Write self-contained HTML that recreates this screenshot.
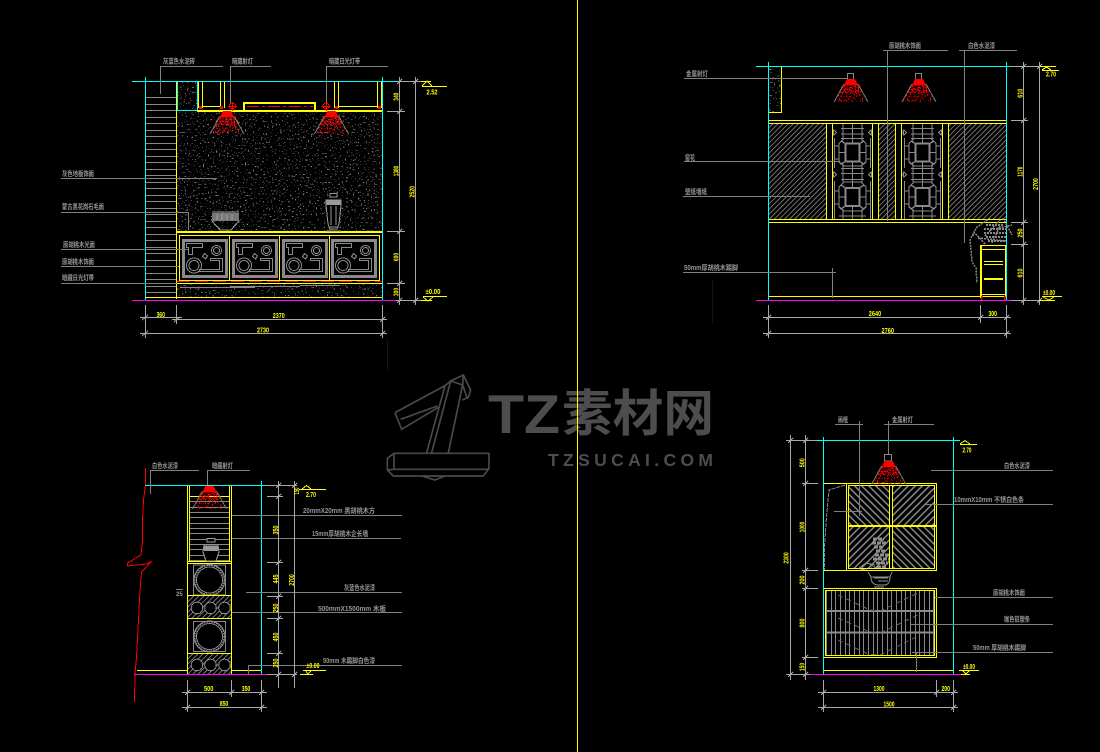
<!DOCTYPE html>
<html><head><meta charset="utf-8"><style>
html,body{margin:0;padding:0;background:#000}
svg{display:block}
.y{fill:#ff0;font:bold 7.500px "Liberation Sans",sans-serif;text-anchor:middle}
.g{fill:#969696;font:bold 7px "Liberation Sans","Noto Sans CJK SC",sans-serif}
.L{fill:none;stroke:#808080;stroke-width:1}
.D{fill:none;stroke:#a8a8a8;stroke-width:1}
.Y{fill:none;stroke:#ff0;stroke-width:1}
.Y2{fill:none;stroke:#ff0;stroke-width:2}
.C{fill:none;stroke:#0ff;stroke-width:1}
.M{fill:none;stroke:#f0f;stroke-width:1}
.R{fill:none;stroke:#f00;stroke-width:1}
.G{fill:none;stroke:#888;stroke-width:1}
</style></head><body>
<svg xmlns="http://www.w3.org/2000/svg" width="1100" height="752" viewBox="0 0 1100 752" shape-rendering="crispEdges">
<defs>
<filter id="sp" x="0" y="0" width="100%" height="100%" color-interpolation-filters="sRGB">
<feTurbulence type="fractalNoise" baseFrequency="0.62" numOctaves="1" seed="5"/>
<feColorMatrix values="0 0 0 0 .5 0 0 0 0 .5 0 0 0 0 .5 1 0 0 0 0"/>
<feComponentTransfer><feFuncA type="linear" slope="40" intercept="-26.200"/></feComponentTransfer>
</filter>
<filter id="spr" x="0" y="0" width="100%" height="100%" color-interpolation-filters="sRGB">
<feTurbulence type="fractalNoise" baseFrequency="0.7" numOctaves="1" seed="8"/>
<feColorMatrix values="0 0 0 0 1 0 0 0 0 0 0 0 0 0 0 1 0 0 0 0"/>
<feComponentTransfer><feFuncA type="linear" slope="40" intercept="-20"/></feComponentTransfer>
</filter>
<filter id="spr2" x="0" y="0" width="100%" height="100%" color-interpolation-filters="sRGB">
<feTurbulence type="fractalNoise" baseFrequency="0.7" numOctaves="1" seed="12"/>
<feColorMatrix values="0 0 0 0 1 0 0 0 0 0 0 0 0 0 0 1 0 0 0 0"/>
<feComponentTransfer><feFuncA type="linear" slope="40" intercept="-23.500"/></feComponentTransfer>
</filter>
<pattern id="fine" patternUnits="userSpaceOnUse" width="3.600" height="3.600" patternTransform="rotate(45)"><rect width="1" height="3.600" fill="#7c7c7c"/></pattern>
<pattern id="d1" patternUnits="userSpaceOnUse" width="5" height="5" patternTransform="rotate(45)"><rect width="1.300" height="5" fill="#888"/></pattern>
<pattern id="d2" patternUnits="userSpaceOnUse" width="5" height="5" patternTransform="rotate(-45)"><rect width="1.300" height="5" fill="#888"/></pattern>
<pattern id="hz" patternUnits="userSpaceOnUse" width="10" height="13"><rect width="10" height="1" fill="#888"/><rect y="6" width="10" height="1" fill="#888"/></pattern>
<pattern id="hz2" patternUnits="userSpaceOnUse" width="10" height="16"><rect width="10" height="1" fill="#888"/><rect y="5" width="10" height="1" fill="#888"/><rect y="11" width="10" height="1" fill="#888"/></pattern>
<pattern id="vt" patternUnits="userSpaceOnUse" width="14" height="10"><rect width="1" height="10" fill="#888"/><rect x="5" width="1" height="10" fill="#888"/><rect x="9" width="1" height="10" fill="#888"/></pattern>
<clipPath id="spray"><path d="M-9 6H9L16 23H-16Z"/></clipPath>
<g id="lamp">
<g clip-path="url(#spray)"><rect x="-17" y="5" width="34" height="9" filter="url(#spr)"/><rect x="-17" y="14" width="34" height="9" filter="url(#spr2)"/></g>
<path d="M-4 0H4L7 6H-7Z" fill="#f00"/>
<path d="M-7 5L-17 23M7 5L17 23" stroke="#777" fill="none"/>
</g>
<g id="panel" fill="none" stroke="#8a8a8a">
<rect x="0" y="0" width="43" height="36" stroke-width="2.600"/>
<path d="M3 3H19V7H9V14H5V7H3Z" stroke-width="1.200"/>
<circle cx="10.500" cy="25" r="7.500"/><circle cx="10.500" cy="25" r="5"/>
<circle cx="33" cy="10" r="5"/><circle cx="33" cy="10" r="3"/>
<path d="M21 13L24 15.500 22 18.500 19 16Z"/>
<path d="M16 31H39V18H27V20H36V29H16Z" stroke-width="1.200"/>
</g>
<g id="lat" fill="none" stroke="#8a8a8a" stroke-width="1.400">
<path d="M8 4.500H31M8 10H31M8 14.500H31M10 0V14.500M19.500 0V14.500M29 0V14.500"/>
<path d="M11 14.500H28L33 19.500V38L28 42H11L6 38V19.500Z"/>
<path d="M1.500 14V44M37.500 14V44M1.500 22H6M1.500 35H6M33 22H37.500M33 35H37.500"/>
<rect x="12.500" y="19.500" width="14" height="18" rx="1.500" stroke-width="2.200"/>
<path d="M19.500 14.500V19.500M19.500 37.500V42M6 28.500H12.500M26.500 28.500H33M8 17L12.500 19.500M31 17L26.500 19.500M8 40L12.500 37.500M31 40L26.500 37.500"/>
<path d="M8 44.500H31M8 49.500H31M8 55.500H31M10 42V58M19.500 42V58M29 42V58"/>
<path d="M1 48L3.500 50.500 1 53 0 50.500ZM38 48L35.500 50.500 38 53 39 50.500ZM1 6L3.500 8.500 1 11 0 8.500ZM38 6L35.500 8.500 38 11 39 8.500Z"/>
<path d="M11 58H28L33 63V83L28 87H11L6 83V63Z"/>
<path d="M1.500 57V95M37.500 57V95M1.500 67H6M1.500 80H6M33 67H37.500M33 80H37.500"/>
<rect x="12.500" y="64" width="14" height="18" rx="1.500" stroke-width="2.200"/>
<path d="M19.500 58V64M19.500 82V87M6 73H12.500M26.500 73H33M8 61L12.500 64M31 61L26.500 64M8 85L12.500 82M31 85L26.500 82"/>
<path d="M6 92H33M10 87V95M19.500 87V95M29 87V95"/>
</g>
<g id="circ" fill="none">
<rect x="0" y="0" width="32" height="30" stroke="#888"/>
<circle cx="16" cy="15" r="14.500" stroke="#8c8c8c" stroke-width="1" stroke-dasharray="1.500 1"/>
<circle cx="16" cy="15" r="13" stroke="#8c8c8c"/>
<circle cx="16" cy="15" r="15.500" stroke="#8c8c8c"/>
</g>
<g id="band">
<rect x="0" y="0" width="44" height="22" fill="url(#fine)"/>
<circle cx="9" cy="12" r="5.800" fill="#000" stroke="#8c8c8c"/>
<circle cx="22.500" cy="12" r="5.800" fill="#000" stroke="#8c8c8c"/>
<circle cx="36.500" cy="12" r="5.800" fill="#000" stroke="#8c8c8c"/>
</g>
</defs>
<rect width="1100" height="752" fill="#000"/>

<!-- watermark -->
<g shape-rendering="auto">
<g fill="none" stroke="#4a4a4a" transform="translate(380 370) scale(.3333)" stroke-width="5">
<path d="M45 128L195 47 212 33 250 15 272 60 265 82 247 90"/>
<path d="M45 128L65 178 175 112M62 148L172 108M212 33L248 45 250 15M248 45L262 85M195 47L140 248M212 33L155 248M248 45L205 248"/>
<path d="M22 265L42 250H327V295L310 318H40L22 300ZM42 250V298H327M22 300L42 298M125 318L165 330 195 318"/>
</g>
<text x="488" y="433" fill="#4d4d4d" font-family="'Liberation Sans','Noto Sans CJK SC',sans-serif" font-weight="700" font-size="55" textLength="72" lengthAdjust="spacingAndGlyphs">TZ</text>
<text x="562" y="431" fill="#4d4d4d" font-family="'Noto Sans CJK SC',sans-serif" font-weight="700" font-size="50" textLength="152" lengthAdjust="spacingAndGlyphs">素材网</text>
<text x="548" y="466" fill="#4d4d4d" font-family="'Liberation Sans',sans-serif" font-weight="700" font-size="17.500" textLength="165">TZSUCAI.COM</text>
</g>
<path d="M577.500 0V752" class="Y"/>
<path d="M712.500 280V323M387.500 340V370" stroke="#151515" fill="none"/>

<!-- ========== DRAWING 1 ========== -->
<rect x="146" y="95" width="30" height="204" fill="url(#hz)"/>
<rect x="177" y="112" width="205" height="120" filter="url(#sp)"/>
<rect x="177" y="284" width="205" height="13" filter="url(#sp)"/>
<rect x="177" y="82" width="20" height="28" filter="url(#sp)"/>
<path class="C" d="M132 81.500H397M145.500 77V300M382.500 77V300M177.500 82V110.500H197.500V82"/>
<path class="Y" d="M176.500 82V299M198.500 82V108M202.500 82V108M220.500 82V108M224.500 82V108M334.500 82V108M338.500 82V108M377.500 82V108M381.500 82V108M202 106.500H220M338 106.500H377M145 297.500H382"/>
<path class="Y2" d="M197 111H382M177 232H382M244 111V103H315V111"/>
<path class="R" d="M247 106.500H313" stroke-dasharray="12 3 3 3"/>
<g fill="#f00"><rect x="199" y="106" width="3" height="3"/><rect x="220" y="106" width="3" height="3"/><rect x="335" y="106" width="3" height="3"/><rect x="378" y="106" width="3" height="3"/></g>
<g class="R"><circle cx="232.500" cy="106" r="3"/><circle cx="326" cy="106" r="3"/><path d="M228 106.500H237M232.500 102V111M321.500 106.500H330.500M326.500 102V111"/></g>
<use href="#lamp" x="227" y="111"/><use href="#lamp" x="331.500" y="111"/>
<path class="Y" d="M179.500 235.500H379.500V280.500H179.500ZM229.500 235.500V280.500M279.500 235.500V280.500M329.500 235.500V280.500M177 283.500H382"/>
<path d="M177 281.500H382" stroke="#f00" fill="none" stroke-dasharray="13 5"/>
<use href="#panel" x="183.500" y="240.500"/><use href="#panel" x="233.500" y="240.500"/><use href="#panel" x="283.500" y="240.500"/><use href="#panel" x="332.500" y="240.500"/>
<path class="G" d="M180 287.500H255M230 286.500H300M300 285.500H340"/>
<!-- vase -->
<g fill="#000" stroke="#999">
<path d="M330 193.500H337V197H330Z"/>
<path d="M326 200H341V205L339 224 337 229H330L328 224 326 205Z"/>
</g>
<rect x="326" y="200" width="15" height="5" fill="#999"/>
<path d="M328.500 227H338.500M331 206V225M336 206V225M326 231H341" stroke="#999" fill="none"/>
<!-- planter -->
<rect x="212" y="213" width="27" height="8" fill="#777"/>
<path d="M212 212H239M212 221L220 230H231L239 221M217 214V220M222 214V220M227 214V220M232 214V220" stroke="#a0a0a0" fill="none"/>
<!-- dims -->
<path class="D" d="M399.500 77V305M415.500 77V305M397 81.500H421M387 111.500H405M387 231.500H405M387 283.500H405M387 300.500H421"/>
<path class="D" d="M145.500 305V338M176.500 305V324M382.500 305V338M140 317.500H182M172 319.500H387M140 333.500H387M142 320L148 315M174 322L180 317M380 322L385 317M142 336L148 331M380 336L385 331M397 84L402 79M397 114L402 109M397 234L402 229M397 286L402 281M397 303L402 298M413 84L418 79M413 303L418 298"/>
<path class="M" d="M132 300.500H396"/>
<path class="Y" d="M422 86.500H447M421 81.500H431M423 296.500H447M421 300.500H432M427 81L422 86M427 81L432 86M423 297L428 301 433 297"/>
<text class="y" transform="translate(398.500 96.700) rotate(-90)" textLength="8" lengthAdjust="spacingAndGlyphs">340</text>
<text class="y" transform="translate(398.500 171) rotate(-90)" textLength="10.500" lengthAdjust="spacingAndGlyphs">1380</text>
<text class="y" transform="translate(398.500 257) rotate(-90)" textLength="8" lengthAdjust="spacingAndGlyphs">600</text>
<text class="y" transform="translate(398.500 292) rotate(-90)" textLength="8" lengthAdjust="spacingAndGlyphs">300</text>
<text class="y" transform="translate(414.500 191.700) rotate(-90)" textLength="11.500" lengthAdjust="spacingAndGlyphs">2520</text>
<text class="y" x="432" y="94.500" textLength="11" lengthAdjust="spacingAndGlyphs">2.52</text>
<text class="y" x="433" y="294" textLength="15" lengthAdjust="spacingAndGlyphs">±0.00</text>
<text class="y" x="160.700" y="317" textLength="8.500" lengthAdjust="spacingAndGlyphs">360</text>
<text class="y" x="278.700" y="318" textLength="12" lengthAdjust="spacingAndGlyphs">2370</text>
<text class="y" x="263" y="332.500" textLength="12" lengthAdjust="spacingAndGlyphs">2730</text>
<path class="L" d="M160 66.500H223M160.500 66V94M230.500 66V103M230 66.500H271M326.500 66V103M326 66.500H388M61 178.500H217M61 212.500H188.500V230M61 249.500H188M61 266.500H179M61 283.500H177"/>
<g class="g">
<text x="163" y="63.500" textLength="32" lengthAdjust="spacingAndGlyphs">灰蓝色水泥砖</text>
<text x="232" y="63.500" textLength="21" lengthAdjust="spacingAndGlyphs">暗藏射灯</text>
<text x="329" y="63.500" textLength="31" lengthAdjust="spacingAndGlyphs">暗藏日光灯带</text>
<text x="62" y="176" textLength="32" lengthAdjust="spacingAndGlyphs">灰色地板饰面</text>
<text x="62" y="209" textLength="42" lengthAdjust="spacingAndGlyphs">蒙古黑花岗石毛面</text>
<text x="63" y="247" textLength="32" lengthAdjust="spacingAndGlyphs">原胡桃木光面</text>
<text x="62" y="264" textLength="32" lengthAdjust="spacingAndGlyphs">原胡桃木饰面</text>
<text x="62" y="280" textLength="32" lengthAdjust="spacingAndGlyphs">暗藏日光灯带</text>
</g>

<!-- ========== DRAWING 2 ========== -->
<rect x="769" y="67" width="12" height="45" filter="url(#sp)"/>
<path class="Y" d="M781.500 67V112.500H769M769 120.500H1006M769 123.500H1006M769 219.500H1006M769 222.500H1006M769 296.500H1006"/>
<rect x="769" y="124" width="57" height="95" fill="url(#fine)"/>
<rect x="878" y="124" width="17" height="95" fill="url(#fine)"/>
<rect x="949" y="124" width="57" height="95" fill="url(#fine)"/>
<use href="#lat" x="833" y="124"/>
<use href="#lat" x="903" y="124"/>
<path class="Y" d="M826.500 123V219M832.500 123V219M872.500 123V219M878.500 123V219M895.500 123V219M901.500 123V219M942.500 123V219M948.500 123V219"/>
<path class="C" d="M756 66.500H1023M768.500 62V300M1006.500 62V300"/>
<path class="G" d="M847.500 73.500H853.500V79.500H847.500ZM915.500 73.500H921.500V79.500H915.500Z"/>
<use href="#lamp" x="851" y="79"/><use href="#lamp" x="919" y="79"/>
<!-- cabinet & plant -->
<g fill="none" stroke="#8a8a8a" stroke-dasharray="2 1">
<path d="M985 244L974 232 970 240 972 262 976 268 977 283M990 218L976 228 973 236M1003 218L1012 235M990 230L1012 225M985 236L1000 220M978 238L1006 241M992 243L1000 226" stroke-width="1.500"/>
<path d="M986 225H1004M984 229H1007M984 233H1006M986 237H1006M988 241H1006" stroke-width="2"/>
</g>
<path class="Y2" d="M981 245V298"/>
<path class="Y" d="M981 245.500H1005.500V296M981 249.500H1005M984 261.500H1003M984 264.500H1003M981 294.500H1005"/>
<path d="M984 279H1003" stroke="#ff0" stroke-width="2" fill="none"/>
<path d="M981.500 296V300M1004.500 296V300" stroke="#f00" stroke-width="1.500" fill="none"/>
<path class="M" d="M756 300.500H1022"/>
<path class="L" d="M684 78.500H847M684 161.500H840M683 196.500H810M683 272.500H836M832.500 268V298M883 50.500H948M887.500 50V221M959 50.500H1017M964.500 50V243"/>
<g class="g">
<text x="686" y="76" textLength="22" lengthAdjust="spacingAndGlyphs">金属射灯</text>
<text x="685" y="160" textLength="10" lengthAdjust="spacingAndGlyphs">窗花</text>
<text x="685" y="194" textLength="22" lengthAdjust="spacingAndGlyphs">壁纸墙纸</text>
<text x="684" y="270" textLength="54" lengthAdjust="spacingAndGlyphs">50mm厚胡桃木踢脚</text>
<text x="889" y="48" textLength="32" lengthAdjust="spacingAndGlyphs">原胡桃木饰面</text>
<text x="968" y="48" textLength="27" lengthAdjust="spacingAndGlyphs">白色水泥漆</text>
</g>
<path class="D" d="M1023.500 62V305M1039.500 62V305M1011 66.500H1042M1011 120.500H1028M1011 222.500H1028M1011 244.500H1028M1011 300.500H1042M763 317.500H1011M763 333.500H1011M768.500 305V338M980.500 305V323M1006.500 305V338M766 320L771 315M978 320L983 315M1004 320L1009 315M766 336L771 331M1004 336L1009 331M1021 69L1026 64M1021 123L1026 118M1021 225L1026 220M1021 247L1026 242M1021 303L1026 298M1037 69L1042 64M1037 303L1042 298"/>
<path class="Y" d="M1040 66.500H1056M1042 70.500H1059M1042 296.500H1062M1039 300.500H1055M1046.500 67L1042 70M1046.500 67L1051 70M1043 297L1049 300 1054 297"/>
<text class="y" transform="translate(1022.500 93.300) rotate(-90)" textLength="9" lengthAdjust="spacingAndGlyphs">610</text>
<text class="y" transform="translate(1022.500 171.700) rotate(-90)" textLength="10" lengthAdjust="spacingAndGlyphs">1170</text>
<text class="y" transform="translate(1022.500 233) rotate(-90)" textLength="9" lengthAdjust="spacingAndGlyphs">250</text>
<text class="y" transform="translate(1022.500 273) rotate(-90)" textLength="9" lengthAdjust="spacingAndGlyphs">610</text>
<text class="y" transform="translate(1038 184) rotate(-90)" textLength="11.700" lengthAdjust="spacingAndGlyphs">2700</text>
<text class="y" x="1051" y="76.500" textLength="10" lengthAdjust="spacingAndGlyphs">2.70</text>
<text class="y" x="1049" y="295" textLength="12" lengthAdjust="spacingAndGlyphs">±0.00</text>
<text class="y" x="875" y="316" textLength="12.500" lengthAdjust="spacingAndGlyphs">2640</text>
<text class="y" x="992.700" y="316" textLength="8.500" lengthAdjust="spacingAndGlyphs">300</text>
<text class="y" x="887.700" y="333" textLength="12.500" lengthAdjust="spacingAndGlyphs">2760</text>

<!-- ========== DRAWING 3 ========== -->
<polyline class="R" points="145.500,468 145.500,485 143.500,500 142.500,520 142.500,540 141,555 127.500,563 127.500,566 146,564 151.500,561.500 141.500,572 140,590 138.500,620 136.500,657 135,673 134.500,702"/>
<rect x="190" y="501" width="39" height="61" fill="url(#hz2)"/>
<use href="#circ" x="193.500" y="565"/><use href="#circ" x="193.500" y="621.500"/>
<use href="#band" x="188" y="596"/><use href="#band" x="188" y="653"/>
<path class="Y" d="M187.500 485V674M231.500 485V674M189.500 485V562M229.500 485V562M190 496.500H229M188 561.500H231M188 563.500H231M188 595.500H231M188 618.500H231M188 653.500H231M137 670.500H187M232 670.500H261"/>
<path class="C" d="M145 485.500H277M261.500 481V674"/>
<path class="M" d="M134 674.500H273"/>
<use href="#lamp" x="209.500" y="486"/>
<g fill="#000" stroke="#999"><path d="M207 538.500H215V542H207Z"/><path d="M204 545H218L219 552 216 561H206L203 552Z"/></g>
<rect x="204" y="546" width="14" height="5" fill="#999"/>
<path class="L" d="M150 470.500H199M150.500 470V494M207 470.500H250M207.500 470V485M232 515.500H402M232 538.500H401M246 592.500H402M232 612.500H402M248 665.500H402M248.500 665V674M176 589.500H183"/>
<g class="g">
<text x="152" y="468" textLength="26" lengthAdjust="spacingAndGlyphs">白色水泥漆</text>
<text x="212" y="468" textLength="21" lengthAdjust="spacingAndGlyphs">暗藏射灯</text>
<text x="303" y="513" textLength="72" lengthAdjust="spacingAndGlyphs">20mmX20mm 黑胡桃木方</text>
<text x="312" y="536" textLength="56" lengthAdjust="spacingAndGlyphs">15mm厚胡桃木企长墙</text>
<text x="344" y="590" textLength="31" lengthAdjust="spacingAndGlyphs">灰蓝色水泥漆</text>
<text x="318" y="611" textLength="68" lengthAdjust="spacingAndGlyphs">500mmX1500mm 木板</text>
<text x="323" y="663" textLength="52" lengthAdjust="spacingAndGlyphs">50mm 木踢脚白色漆</text>
<text x="176" y="596" style="font-size:6px">25</text>
</g>
<path class="D" d="M278.500 481V688M294.500 481V688M267 485.500H297M267 496.500H283M267 562.500H283M267 596.500H283M267 618.500H283M267 653.500H283M267 674.500H297M182 692.500H267M182 707.500H267M187.500 680V712M231.500 680V697M261.500 680V712M185 695L190 690M229 695L234 690M259 695L264 690M185 710L190 705M259 710L264 705M276 488L281 483M276 499L281 494M276 565L281 560M276 599L281 594M276 621L281 616M276 656L281 651M276 677L281 672M292 488L297 483M292 677L297 672"/>
<path class="Y" d="M299 489.500H326M302 489L306.500 485.500 311 489M303 670.500H326M300 674.500H313M306 671L307.500 674 311 671"/>
<text class="y" transform="translate(278 530) rotate(-90)" textLength="9" lengthAdjust="spacingAndGlyphs">350</text>
<text class="y" transform="translate(278 579) rotate(-90)" textLength="9" lengthAdjust="spacingAndGlyphs">445</text>
<text class="y" transform="translate(278 608) rotate(-90)" textLength="9" lengthAdjust="spacingAndGlyphs">250</text>
<text class="y" transform="translate(278 637) rotate(-90)" textLength="9" lengthAdjust="spacingAndGlyphs">450</text>
<text class="y" transform="translate(278 663) rotate(-90)" textLength="9" lengthAdjust="spacingAndGlyphs">250</text>
<text class="y" transform="translate(294 580) rotate(-90)" textLength="11.500" lengthAdjust="spacingAndGlyphs">2700</text>
<text class="y" transform="translate(299 491) rotate(-90)" textLength="7" lengthAdjust="spacingAndGlyphs">150</text>
<text class="y" x="311" y="497" textLength="10" lengthAdjust="spacingAndGlyphs">2.70</text>
<text class="y" x="313" y="668" textLength="13" lengthAdjust="spacingAndGlyphs">±0.00</text>
<text class="y" x="208.700" y="691" textLength="9.300" lengthAdjust="spacingAndGlyphs">500</text>
<text class="y" x="246" y="691" textLength="8.500" lengthAdjust="spacingAndGlyphs">350</text>
<text class="y" x="224" y="706" textLength="8.500" lengthAdjust="spacingAndGlyphs">850</text>

<!-- ========== DRAWING 4 ========== -->
<rect x="849" y="486" width="41" height="39" fill="url(#d2)"/>
<rect x="893" y="486" width="41" height="39" fill="url(#d1)"/>
<rect x="849" y="527" width="41" height="42" fill="url(#d1)"/>
<rect x="893" y="527" width="41" height="42" fill="url(#d2)"/>
<path d="M845 485L829 490 826.500 517 824.500 547V570" fill="none" stroke="#888" stroke-dasharray="4 1"/>
<!-- plant -->
<g fill="none" stroke="#8f8f8f">
<path d="M873 539H884M872 543H886M874 547H884M876 551H886M875 555H890M873 559H890M876 563H888M877 567H886" stroke-width="3" stroke-dasharray="4 1"/>
<path d="M859 568L866 563 875 565M860 570L872 568M868 563L878 569"/>
<path d="M868 572L871 577H890L892 572M871 577Q871 585 879 585H884Q890 585 890 577M874 578H888M878 581H888M874 587H884"/>
</g>
<path class="Y" d="M823 483.500H936.500V570.500H823M846.500 483V570M848.500 485.500H934.500V568.500H848.500ZM889.500 485V569M892.500 485V569M823 588.500H936.500V657.500H823.500V588M825.500 590.500H934.500V655.500H825.500ZM823 670.500H953"/>
<path d="M848 526H936" stroke="#ff0" stroke-width="2" fill="none"/>
<!-- lower cabinet -->
<rect x="826" y="591" width="108" height="64" fill="url(#vt)"/>
<path d="M826 611H934M826 632.500H934" stroke="#8c8c8c" stroke-width="2" fill="none"/>
<path d="M838 595L870 610 880 611 920 592M838 618L870 632 882 632 920 614M838 640L868 654 880 655 920 635" fill="none" stroke="#666" stroke-dasharray="5 4"/>
<path class="Y" d="M825.500 590.500H934.500V655.500H825.500Z"/>
<path class="C" d="M810 440.500H960M823.500 437V674M953.500 437V674"/>
<path class="M" d="M810 674.500H967"/>
<path class="G" d="M884.500 454.500H891.500V461H884.500Z"/>
<use href="#lamp" x="888.700" y="461"/>
<path class="L" d="M835 424.500H863M859.500 421V516M834 511.500H862M884 424.500H934M888.500 421V454M931 470.500H1053M924 504.500H1053M935 597.500H1053M910 624.500H1053M912 652.500H1053M916.500 652V672"/>
<g class="g">
<text x="838" y="422" textLength="10" lengthAdjust="spacingAndGlyphs">画框</text>
<text x="892" y="422" textLength="21" lengthAdjust="spacingAndGlyphs">金属射灯</text>
<text x="1004" y="468" textLength="26" lengthAdjust="spacingAndGlyphs">白色水泥漆</text>
<text x="954" y="502" textLength="70" lengthAdjust="spacingAndGlyphs">10mmX10mm 不锈白色条</text>
<text x="993" y="595" textLength="32" lengthAdjust="spacingAndGlyphs">原胡桃木饰面</text>
<text x="1004" y="621.500" textLength="26" lengthAdjust="spacingAndGlyphs">咖色铝塑条</text>
<text x="973" y="650" textLength="53" lengthAdjust="spacingAndGlyphs">50mm 厚胡桃木踢脚</text>
</g>
<path class="D" d="M790.500 435V680M805.500 435V680M786 440.500H817M802 483.500H818M802 570.500H818M802 588.500H818M802 657.500H818M786 674.500H810M818 692.500H958M818 707.500H958M823.500 680V712M936.500 680V697M953.500 680V712M821 695L826 690M934 695L939 690M951 695L956 690M821 710L826 705M951 710L956 705M803 443L808 438M803 486L808 481M803 573L808 568M803 591L808 586M803 660L808 655M803 677L808 672M788 443L793 438M788 677L793 672"/>
<path class="Y" d="M960 444.500H977M965 440.500L960 444M965 440.500L970 444M959 670.500H979M961 674.500H970M963 671L966 674 969 671"/>
<text class="y" transform="translate(804.500 462.700) rotate(-90)" textLength="9" lengthAdjust="spacingAndGlyphs">500</text>
<text class="y" transform="translate(804.500 527) rotate(-90)" textLength="10.600" lengthAdjust="spacingAndGlyphs">1000</text>
<text class="y" transform="translate(804.500 580) rotate(-90)" textLength="9" lengthAdjust="spacingAndGlyphs">200</text>
<text class="y" transform="translate(804.500 623) rotate(-90)" textLength="9" lengthAdjust="spacingAndGlyphs">800</text>
<text class="y" transform="translate(804.500 667) rotate(-90)" textLength="8" lengthAdjust="spacingAndGlyphs">150</text>
<text class="y" transform="translate(788.500 558) rotate(-90)" textLength="11.300" lengthAdjust="spacingAndGlyphs">2300</text>
<text class="y" x="967" y="452.500" textLength="9" lengthAdjust="spacingAndGlyphs">2.70</text>
<text class="y" x="969" y="669" textLength="12" lengthAdjust="spacingAndGlyphs">±0.00</text>
<text class="y" x="879" y="691" textLength="11" lengthAdjust="spacingAndGlyphs">1300</text>
<text class="y" x="945.700" y="691" textLength="8.500" lengthAdjust="spacingAndGlyphs">200</text>
<text class="y" x="889" y="706.500" textLength="11" lengthAdjust="spacingAndGlyphs">1500</text>
</svg>
</body></html>
